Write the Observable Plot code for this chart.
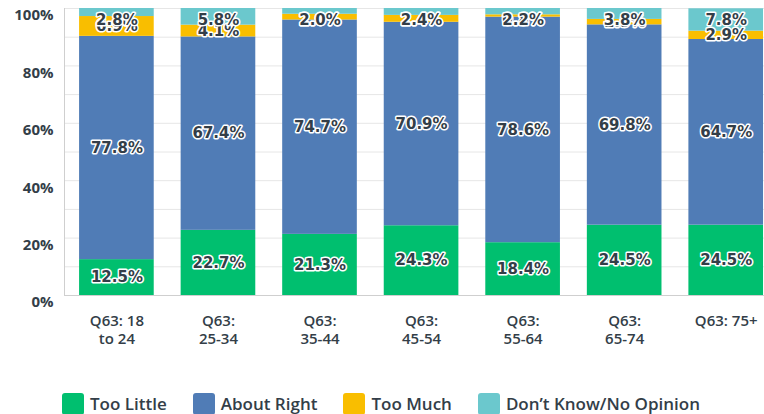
<!DOCTYPE html>
<html>
<head>
<meta charset="utf-8">
<script src="https://cdn.jsdelivr.net/npm/d3@7"></script>
<script src="https://cdn.jsdelivr.net/npm/@observablehq/plot@0.6"></script>
<style>
  html, body { margin: 0; padding: 0; background: #fff; }
  #chart svg { display: block; }
  .legend { display: flex; gap: 26px; padding-left: 62px; margin-top: 22px;
    font-family: "Open Sans", sans-serif; font-weight: 600; font-size: 17px; color: #333e48; }
  .legend .item { display: flex; align-items: center; gap: 6px; }
  .legend .sw { width: 22px; height: 22px; border-radius: 3px; display: inline-block; }
</style>
</head>
<body>
<div id="chart"></div>
<script>
const categories = ["Q63: 18\nto 24", "Q63:\n25-34", "Q63:\n35-44", "Q63:\n45-54", "Q63:\n55-64", "Q63:\n65-74", "Q63: 75+"];
const seriesNames = ["Too Little", "About Right", "Too Much", "Don\u2019t Know/No Opinion"];
const seriesColors = ["#00bf6f", "#507cb6", "#f9be00", "#6bc8cd"];
const tooLittle   = [12.5, 22.7, 21.3, 24.3, 18.4, 24.5, 24.5];
const aboutRight  = [77.8, 67.4, 74.7, 70.9, 78.6, 69.8, 64.7];
const tooMuch     = [6.9, 4.1, 2.0, 2.4, 0.8, 1.9, 2.9];
const dontKnow    = [2.8, 5.8, 2.0, 2.4, 2.2, 3.8, 7.8];
const yTicks = [0, 20, 40, 60, 80, 100];
const gridTicks = [0, 10, 20, 30, 40, 50, 60, 70, 80, 90, 100];

const seriesValues = [tooLittle, aboutRight, tooMuch, dontKnow];
const rows = [];
const labels = [];
categories.forEach((cat, i) => {
  let cum = 0;
  seriesNames.forEach((s, j) => {
    const v = seriesValues[j][i];
    rows.push({cat, series: s, value: v});
    const mid = cum + v / 2;
    labels.push({cat, series: s, value: v, pos: Math.min(mid, 96)});
    cum += v;
  });
});

const chart = Plot.plot({
  width: 764,
  height: 370,
  marginTop: 8,
  marginBottom: 75,
  marginLeft: 64,
  marginRight: 0,
  x: {domain: categories, paddingInner: 0.265, paddingOuter: 0.079, align: 0.94, round: false},
  y: {domain: [0, 100]},
  color: {domain: seriesNames, range: seriesColors},
  marks: [
    Plot.gridY(gridTicks, {stroke: "#e6e6e6", strokeOpacity: 1}),
    Plot.barY(rows, {x: "cat", y: "value", fill: "series", order: seriesNames}),
    Plot.ruleY([0], {stroke: "#cfcfcf"}),
    Plot.frame({anchor: "left", stroke: "#cfcfcf"}),
    Plot.text(labels, {
      x: "cat", y: "pos", text: d => d.value.toFixed(1) + "%",
      fill: "#333e48", stroke: "white", strokeWidth: 3, paintOrder: "stroke",
      fontFamily: "DejaVu Sans", fontWeight: "bold", fontSize: 15
    }),
    Plot.axisY(yTicks, {
      tickSize: 0, tickPadding: 11, dy: 7, label: null,
      tickFormat: d => d + "%",
      fontFamily: "Open Sans", fontWeight: 700, fontSize: 15, fill: "#333e48"
    }),
    Plot.axisX({
      tickSize: 0, tickPadding: 18, label: null, lineHeight: 1.2,
      fontFamily: "Open Sans", fontWeight: 600, fontSize: 15, fill: "#333e48"
    })
  ]
});
document.getElementById("chart").appendChild(chart);

const legend = document.createElement("div");
legend.className = "legend";
seriesNames.forEach((s, j) => {
  const item = document.createElement("div");
  item.className = "item";
  const sw = document.createElement("span");
  sw.className = "sw";
  sw.style.background = seriesColors[j];
  const t = document.createElement("span");
  t.textContent = s;
  item.appendChild(sw);
  item.appendChild(t);
  legend.appendChild(item);
});
document.body.appendChild(legend);
</script>
</body>
</html>
